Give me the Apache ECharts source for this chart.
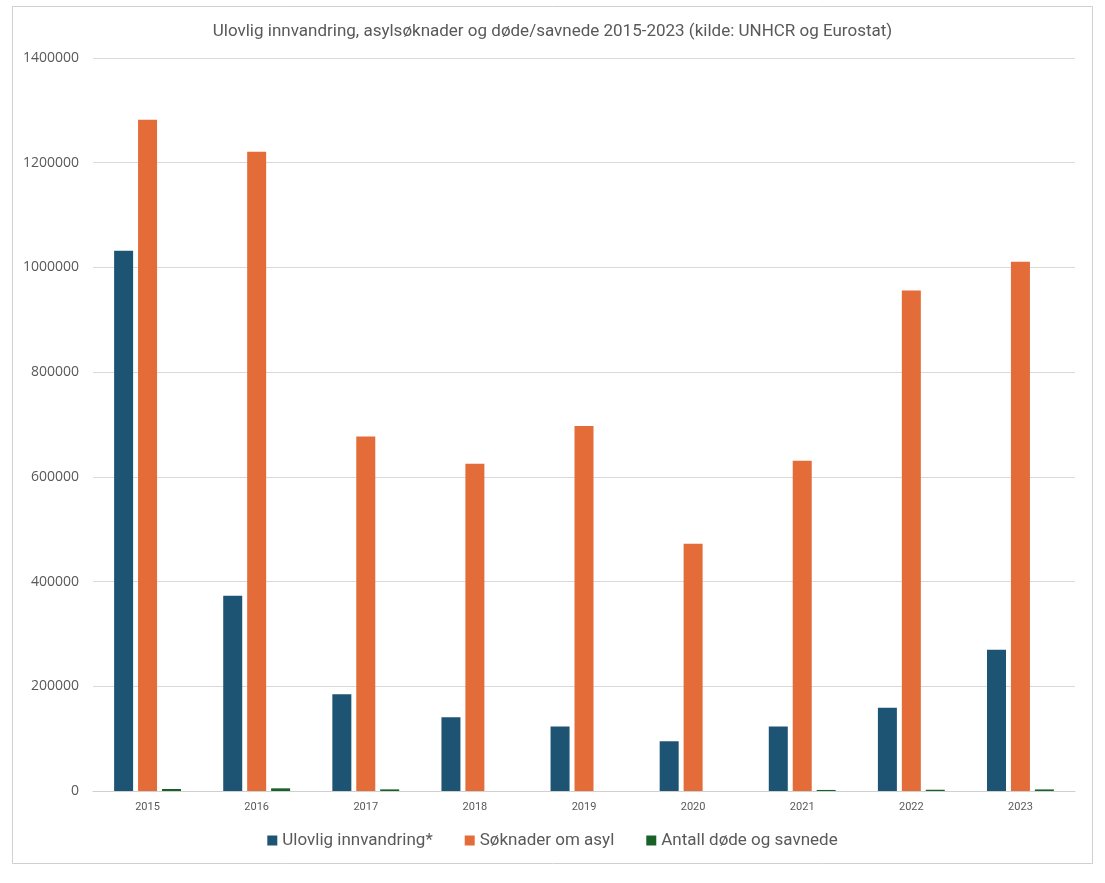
<!DOCTYPE html>
<html>
<head>
<meta charset="utf-8">
<script src="https://cdn.jsdelivr.net/npm/echarts@6/dist/echarts.min.js"></script>
<style>html,body{margin:0;padding:0;background:#fff;}#c{width:1105px;height:883px;}</style>
</head>
<body>
<div id="c"></div>
<script>
const titleText = 'Ulovlig innvandring, asylsøknader og døde/savnede 2015-2023 (kilde: UNHCR og Eurostat)';
const years = ['2015','2016','2017','2018','2019','2020','2021','2022','2023'];
const seriesNames = ['Ulovlig innvandring*', 'Søknader om asyl', 'Antall døde og savnede'];
const illegal = [1032000, 373000, 185000, 141000, 123000, 95000, 123000, 159000, 270000];
const asylum = [1282000, 1221000, 677000, 625000, 697000, 472000, 631000, 956000, 1011000];
const deadMissing = [3800, 5100, 3100, null, null, null, 2000, 2400, 3000];
const colors = ['#1d5474', '#e46c38', '#18622a'];

const chart = echarts.init(document.getElementById('c'));
const font = 'Liberation Sans Narrow, Roboto, sans-serif';
chart.setOption({
  backgroundColor: '#fff',
  animation: false,
  title: {
    text: titleText, left: 'center', top: 18,
    textStyle: {fontFamily: font, fontSize: 17, fontWeight: 'normal', color: '#595959'}
  },
  graphic: [{
    type: 'rect', shape: {x: 12.5, y: 6.5, width: 1080, height: 857},
    style: {fill: 'none', stroke: '#d0d0d0', lineWidth: 1}, silent: true, z: -1
  }],
  legend: {
    bottom: 29, left: 'center', itemWidth: 10, itemHeight: 10, itemGap: 32,
    icon: 'rect',
    textStyle: {fontFamily: font, fontSize: 17, color: '#595959'},
    data: seriesNames
  },
  grid: {left: 93, right: 30, top: 58, bottom: 92, containLabel: false},
  xAxis: {
    type: 'category', data: years,
    axisLine: {lineStyle: {color: '#d0d0d0'}},
    axisTick: {show: false},
    axisLabel: {color: '#595959', fontSize: 11, fontFamily: 'Roboto, sans-serif', margin: 11}
  },
  yAxis: {
    type: 'value', min: 0, max: 1400000, interval: 200000,
    axisLine: {show: false}, axisTick: {show: false},
    splitLine: {lineStyle: {color: '#d9d9d9'}},
    axisLabel: {color: '#595959', fontSize: 14, fontFamily: 'Open Sans, Roboto, sans-serif', margin: 14,
      formatter: v => String(v)}
  },
  series: [
    {name: seriesNames[0], type: 'bar', data: illegal, itemStyle: {color: colors[0]}, barWidth: 19, barGap: '26%'},
    {name: seriesNames[1], type: 'bar', data: asylum, itemStyle: {color: colors[1]}, barWidth: 19, barGap: '26%'},
    {name: seriesNames[2], type: 'bar', data: deadMissing, itemStyle: {color: colors[2]}, barWidth: 19, barGap: '26%'}
  ]
});
</script>
</body>
</html>
